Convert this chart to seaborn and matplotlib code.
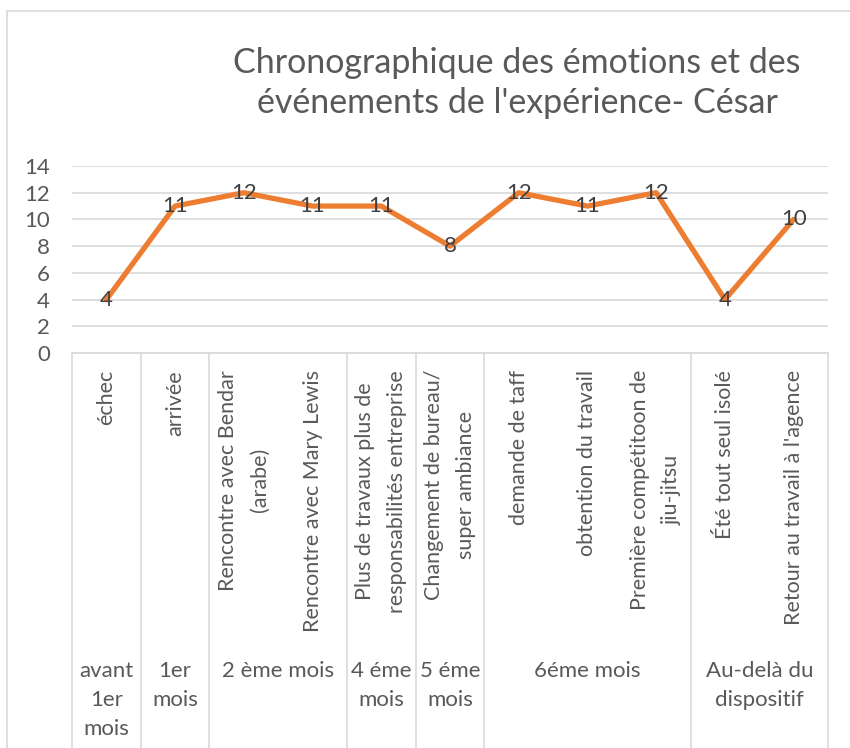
import matplotlib
matplotlib.use("Agg")
import matplotlib.pyplot as plt
import matplotlib.transforms as mtransforms
import pandas as pd
import seaborn as sns

events = ["échec", "arrivée", "Rencontre avec Bendar\n(arabe)", "Rencontre avec Mary Lewis",
          "Plus de travaux plus de\nresponsabilités entreprise", "Changement de bureau/\nsuper ambiance",
          "demande de taff", "obtention du travail", "Première compétitoon de\njiu-jitsu",
          "Été tout seul isolé", "Retour au travail à l'agence"]
values = [4, 11, 12, 11, 11, 8, 12, 11, 12, 4, 10]
groups = ["avant\n1er\nmois", "1er\nmois", "2 ème mois", "4 éme\nmois", "5 éme\nmois",
          "6éme mois", "Au-delà du\ndispositif"]
group_sizes = [1, 1, 2, 1, 1, 3, 2]
title = "Chronographique des émotions et des\névénements de l'expérience- César"

sns.set_style("white")
plt.rcParams['font.family'] = ['Lato', 'DejaVu Sans']

W, H = 850, 748
fig = plt.figure(figsize=(W / 100, H / 100), dpi=100)
ax = fig.add_axes([72 / W, 1 - 353 / H, (828 - 72) / W, (353 - 166) / H])

df = pd.DataFrame({"pos": range(len(events)), "value": values})
sns.lineplot(data=df, x="pos", y="value", ax=ax, color="#ED7D31", linewidth=3.8,
             solid_joinstyle="round", solid_capstyle="round")

for i, v in enumerate(values):
    ax.text(i, v, str(v), ha="center", va="center", fontsize=16, color="#404040", zorder=5)

ax.set_xlim(-0.5, len(events) - 0.5)
ax.set_ylim(0, 14)
ax.set_yticks(range(0, 15, 2))
ax.set_xticks([])
ax.set_xlabel("")
ax.set_ylabel("")
ax.tick_params(axis="y", length=0, pad=16, labelsize=16, labelcolor="#595959")
ax.grid(axis="y", color="#D9D9D9", linewidth=1.2)
for s in ["left", "right", "top"]:
    ax.spines[s].set_visible(False)
ax.spines["bottom"].set_color("#D9D9D9")
ax.spines["bottom"].set_linewidth(1.2)

trans = mtransforms.blended_transform_factory(ax.transData, ax.transAxes)
bottom = -(H - 353) / (353 - 166)
ev_top = -(370 - 353) / (353 - 166)
gr_top = -(661 - 353) / (353 - 166)

for i, e in enumerate(events):
    ax.text(i, ev_top, e, rotation=90, ha="center", va="top", multialignment="center",
            fontsize=15.5, color="#595959", transform=trans, linespacing=1.75)

start = -0.5
ax.plot([start, start], [0, bottom], transform=trans, color="#D9D9D9", lw=1.2, clip_on=False)
for g, n in zip(groups, group_sizes):
    end = start + n
    ax.plot([end, end], [0, bottom], transform=trans, color="#D9D9D9", lw=1.2, clip_on=False)
    ax.text((start + end) / 2, gr_top, g, ha="center", va="top", multialignment="center",
            fontsize=16, color="#595959", transform=trans, linespacing=1.55)
    start = end

fig.text(517 / W, 1 - 83 / H, title, ha="center", va="center", fontsize=24.5,
         color="#595959", linespacing=1.3)

fig.add_artist(plt.Rectangle((7 / W, -0.1), 1.2, 1 - 11 / H + 0.1, transform=fig.transFigure,
                             fill=False, edgecolor="#D9D9D9", linewidth=1.2))

fig.savefig("out.png", dpi=100)
